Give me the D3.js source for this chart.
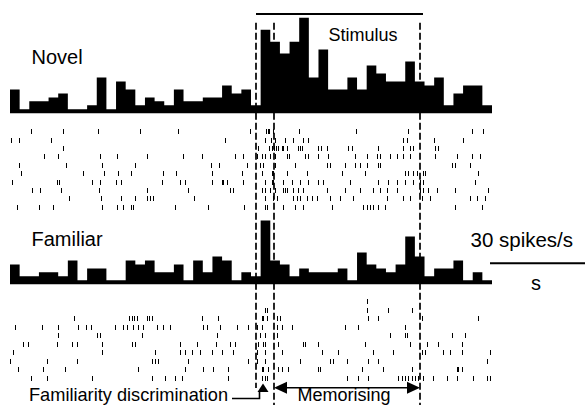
<!DOCTYPE html>
<html lang="en">
<head>
  <meta charset="UTF-8">
  <title>Novel vs familiar PSTH</title>
  <style>
    body { margin: 0; background: #fff; }
    text { font-family: "Liberation Sans", Arial, Helvetica, sans-serif; fill: #000; }
  </style>
</head>
<body>
  <script src="https://d3js.org/d3.v7.min.js"></script>
  <script>
    // time window (ms, relative to stimulus onset) and binning
    var windowStart = -2510, windowEnd = 2310, nBins = 50;
    var binMs = (windowEnd - windowStart) / nBins;

    // histogram values, spikes/s per bin
    var novelRate = [6,1,3,3,4,5,1,1,2,9, 1,8,6,2,4,3,2,6,3,3, 4,4,7,5,6,2,21,18,15,18,
      24,9,16,6,6,9,6,12,10,8, 8,13,8,7,9,2,5,7,7,2];
    var familiarRate = [5,2,2,3,3,2,6,1,4,4, 1,1,6,5,6,3,3,5,1,6, 3,7,6,1,3,2,16,6,5,2,
      4,3,3,3,4,1,8,5,4,3, 5,12,7,2,4,4,6,1,3,1];

    // spike times (ms) per trial
    var novelSpikes = [
      [-2300,-1980,-1630,-1210,-830,-110,50,70,80,120,380,950,1470,2110,2220],
      [-2500,-2420,-2100,-360,40,100,140,240,320,420,470,1420,1460,1730,2020],
      [-1980,-30,80,110,130,150,170,210,220,260,370,390,410,570,600,660,870,910,1170,1420,1490,1520,1740,1770],
      [-2170,-2030,-1610,-1440,-1140,-780,-590,-260,-180,-40,10,40,90,140,260,280,440,470,570,670,940,1060,1160,1190,1290,1360,1420,1490,1740,1960,2110,2190],
      [-2420,-1950,-1590,-1260,-500,-420,-140,-10,20,140,340,660,690,840,940,990,1060,1170,1190,1910,1940,2090],
      [-2400,-1780,-1570,-1430,-1300,-980,-850,-490,-190,10,110,120,260,460,810,1040,1440,1470,1520,1560,1620,1640,2170],
      [-2490,-2040,-2020,-1690,-1610,-1450,-1400,-990,-810,-760,-490,-390,-380,-340,-180,40,110,120,220,310,390,470,570,620,890,1170,1270,1360,1440,1520,1590,1620,2140],
      [-2290,-2210,-2000,-1620,-1140,-730,-310,-280,10,40,90,140,220,240,260,320,370,420,660,840,990,1120,1190,1260,1360,1590,1620,1670,1760,1940,2270],
      [-1920,-1600,-1400,-1260,-1140,-1110,-1080,-670,40,120,160,320,360,390,460,510,560,690,790,920,1260,1420,1490,1610,1690,2090,2160,2240],
      [-2440,-2220,-2080,-1590,-1440,-1380,-1300,-1280,-860,-530,-170,40,60,220,340,420,710,1020,1060,1090,1120,1170,1240,1940,2210]
    ];
    var familiarSpikes = [
      [1060],
      [40,60,1060,1270,1510],
      [-1870,-1320,-1290,-1270,-1240,-1140,-1120,-1090,-590,-430,10,20,60,160,190,1070,1170,1610,2170],
      [-2460,-2190,-2030,-1830,-1750,-1700,-1460,-1380,-1340,-1280,-1230,-1180,-1040,-980,-910,-580,-540,-410,-240,-130,-40,10,160,210,310,840,970,1440],
      [-2030,-1640,-1610,-1190,-440,-10,40,160,1290,1440,1460,1910,2040],
      [-2380,-2330,-2040,-1890,-1840,-1590,-1290,-1260,-810,-640,-450,-310,-260,-30,20,40,170,420,440,570,1040,1490,1660,1770,2010],
      [-2480,-1590,-1060,-810,-760,-690,-610,-490,-390,-280,-40,40,210,610,770,1120,1320,1610,1640,1820,1890,2010,2290],
      [-2510,-2140,-1840,-1090,-1060,-1030,-730,-130,-40,40,390,690,720,860,1070,1170,2260],
      [-2430,-2180,-1960,-1230,-760,-580,-480,-330,10,20,70,170,210,270,570,590,1010,1220,1510,1960,1970,2010],
      [-2300,-2140,-1690,-1090,-960,-860,-790,-330,10,40,60,860,970,1070,1370,1410,1440,1470,1510,1540,1570,1620,1720,1860,1960,2120,2260,2290]
    ];

    var stimulus = [-50, 1620];          // stimulus bar
    var markers = [-50, 130, 1590];      // dashed epoch lines
    var familiarityTime = 20;            // arrow for familiarity discrimination
    var memorising = [130, 1590];
    var scaleBarMs = [2290, 3290];       // 1 s scale bar

    var width = 585, height = 405;
    var svg = d3.select('body').append('svg')
      .attr('width', width)
      .attr('height', height);

    var x = d3.scaleLinear().domain([windowStart, windowEnd]).range([10, 492]);

    var panels = [
      { label: 'Novel', rate: novelRate, spikes: novelSpikes, base: 113.3, labelY: 64, rows: [131.7, 207.3] },
      { label: 'Familiar', rate: familiarRate, spikes: familiarSpikes, base: 284.3, labelY: 246, rows: [301.7, 378.3] }
    ];

    panels.forEach(function(p) {
      var y = d3.scaleLinear().domain([0, 25]).range([p.base, p.base - 99.5]);
      var pts = p.rate.map(function(v, i) { return { t: windowStart + i * binMs, v: v }; });
      pts.push({ t: windowEnd, v: p.rate[p.rate.length - 1] });

      var area = d3.area()
        .x(function(d) { return x(d.t); })
        .y0(p.base)
        .y1(function(d) { return y(d.v); })
        .curve(d3.curveStepAfter);

      svg.append('path').datum(pts).attr('d', area).attr('fill', '#000');

      svg.append('text')
        .attr('x', 31.5).attr('y', p.labelY)
        .attr('font-size', 20)
        .text(p.label);

      var row = d3.scalePoint().domain(d3.range(p.spikes.length)).range(p.rows);
      var ticks = [];
      p.spikes.forEach(function(trial, i) {
        trial.forEach(function(t) { ticks.push({ t: t, trial: i }); });
      });
      svg.append('g')
        .attr('shape-rendering', 'crispEdges')
        .selectAll('rect')
        .data(ticks)
        .enter().append('rect')
        .attr('x', function(d) { return Math.round(x(d.t)) - 0.5; })
        .attr('y', function(d) { return row(d.trial) - 2.5; })
        .attr('width', 1.5)
        .attr('height', 5)
        .attr('fill', '#000');
    });

    // stimulus bar
    svg.append('line')
      .attr('x1', x(stimulus[0])).attr('x2', x(stimulus[1]))
      .attr('y1', 14).attr('y2', 14)
      .attr('stroke', '#000').attr('stroke-width', 2);
    svg.append('text')
      .attr('x', 328.5).attr('y', 40.5)
      .attr('font-size', 18)
      .text('Stimulus');

    // dashed epoch lines
    svg.append('g').selectAll('line')
      .data(markers)
      .enter().append('line')
      .attr('x1', function(d) { return x(d); })
      .attr('x2', function(d) { return x(d); })
      .attr('y1', 22.7)
      .attr('y2', function(d, i) { return i === 0 ? 388 : 405; })
      .attr('stroke', '#000')
      .attr('stroke-width', 1.7)
      .attr('stroke-dasharray', '7,3');

    // scale bar
    svg.append('line')
      .attr('x1', x(scaleBarMs[0])).attr('x2', x(scaleBarMs[1]))
      .attr('y1', 263.3).attr('y2', 263.3)
      .attr('stroke', '#000').attr('stroke-width', 2);
    svg.append('text')
      .attr('x', 470.5).attr('y', 246.5)
      .attr('font-size', 20.5)
      .text('30 spikes/s');
    svg.append('text')
      .attr('x', 531).attr('y', 290)
      .attr('font-size', 20)
      .text('s');

    // memorising arrow
    var ay = 387.7, ah = 13, aw = 6;
    var m0 = x(memorising[0]), m1 = x(memorising[1]);
    svg.append('line')
      .attr('x1', m0 + ah - 1).attr('x2', m1 - ah + 1)
      .attr('y1', ay).attr('y2', ay)
      .attr('stroke', '#000').attr('stroke-width', 1.6);
    svg.append('path')
      .attr('d', 'M' + m0 + ',' + ay + 'L' + (m0 + ah) + ',' + (ay - aw) + 'L' + (m0 + ah) + ',' + (ay + aw) + 'Z'
        + 'M' + m1 + ',' + ay + 'L' + (m1 - ah) + ',' + (ay - aw) + 'L' + (m1 - ah) + ',' + (ay + aw) + 'Z')
      .attr('fill', '#000');
    svg.append('text')
      .attr('x', 297.5).attr('y', 401)
      .attr('font-size', 18)
      .text('Memorising');

    // familiarity discrimination arrow
    var fx = x(familiarityTime);
    svg.append('path')
      .attr('d', 'M232,398.5H' + (fx - 3.5) + 'V391')
      .attr('fill', 'none')
      .attr('stroke', '#000').attr('stroke-width', 1.6);
    svg.append('path')
      .attr('d', 'M' + fx + ',383.5L' + (fx - 5.5) + ',392L' + (fx + 5.5) + ',392Z')
      .attr('fill', '#000');
    svg.append('text')
      .attr('x', 29).attr('y', 401)
      .attr('font-size', 18.2)
      .text('Familiarity discrimination');
  </script>
</body>
</html>
